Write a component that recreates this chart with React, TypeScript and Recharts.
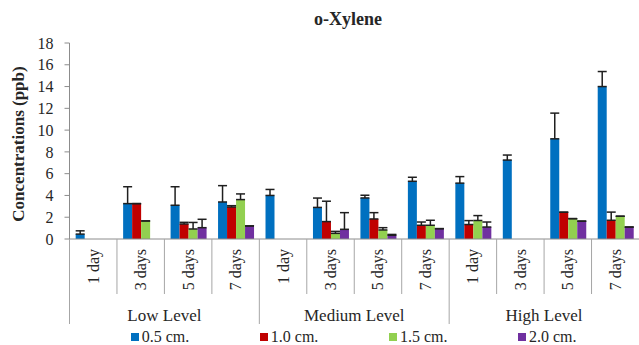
import React from "react";
import { BarChart, Bar, XAxis, YAxis, ErrorBar, Legend } from "recharts";

// Categories
const levels = ["Low Level", "Medium Level", "High Level"];
const days = ["1 day", "3 days", "5 days", "7 days"];

// Series (sampling depth) names and colours
const seriesNames = ["0.5 cm.", "1.0 cm.", "1.5 cm.", "2.0 cm."];
const seriesColors = ["#0070C0", "#C00000", "#92D050", "#7030A0"];

// Y axis ticks (ppb)
const yTicks = [0, 2, 4, 6, 8, 10, 12, 14, 16, 18];

// Mean concentrations, ordered Low(1,3,5,7 d), Medium(...), High(...)
const cm05 = [0.45, 3.25, 3.1, 3.4, 4.0, 2.9, 3.77, 5.3, 5.13, 7.25, 9.2, 14.0];
const cm10 = [null, 3.25, 1.38, 2.94, null, 1.6, 1.84, 1.26, 1.33, null, 2.46, 1.72];
const cm15 = [null, 1.66, 0.92, 3.62, null, 0.52, 0.83, 1.26, 1.7, null, 1.87, 2.09];
const cm20 = [null, null, 1.04, 1.2, null, 0.89, 0.34, 0.95, 1.1, null, 1.64, 1.1];

// Upper error (standard deviation)
const cm05Err = [0.3, 1.55, 1.7, 1.5, 0.55, 0.86, 0.25, 0.37, 0.6, 0.46, 2.36, 1.38];
const cm10Err = [null, 0, 0.15, 0.12, null, 1.87, 0.58, 0.3, 0.36, null, 0, 0.75];
const cm15Err = [null, 0, 0.6, 0.52, null, 0.18, 0.21, 0.46, 0.45, null, 0, 0];
const cm20Err = [null, null, 0.77, 0, null, 1.53, 0.08, 0, 0.46, null, 0, 0];

const values = [cm05, cm10, cm15, cm20];
const errors = [cm05Err, cm10Err, cm15Err, cm20Err];

const data = levels.flatMap((level, li) =>
  days.map((day, di) => {
    const i = li * days.length + di;
    const row: Record<string, any> = { key: `${level}|${day}`, level, day };
    values.forEach((arr, s) => {
      row[`s${s}`] = arr[i];
      const e = errors[s][i];
      row[`e${s}`] = e == null ? null : [0, e];
    });
    return row;
  })
);

const CHART_W = 639;
const CHART_H = 345;
const Y_AXIS_W = 69.5;
const BAND = (CHART_W - Y_AXIS_W) / data.length;
const FONT = "'Liberation Serif', 'Times New Roman', serif";
const TEXT = "#262626";
const AXIS = "#8c8c8c";
const SEP = "#a6a6a6";

const DayTick = (props: any) => {
  const { x, y, index } = props;
  const row = data[index];
  if (!row) return null;
  const left = x - BAND / 2;
  const groupStart = index % days.length === 0;
  const ty = y + 10;
  return (
    <g>
      <line x1={left} x2={left} y1={y} y2={y + (groupStart ? 85 : 55)} stroke={SEP} strokeWidth={1} />
      <text
        x={x}
        y={ty}
        transform={`rotate(-90, ${x}, ${ty})`}
        textAnchor="end"
        dominantBaseline="central"
        fontSize={16}
        fontFamily={FONT}
        fill={TEXT}
      >
        {row.day}
      </text>
      {index % days.length === 1 && (
        <text
          x={x + BAND / 2}
          y={y + 76}
          textAnchor="middle"
          dominantBaseline="central"
          fontSize={17}
          fontFamily={FONT}
          fill={TEXT}
        >
          {row.level}
        </text>
      )}
    </g>
  );
};

const LegendContent = () => (
  <div style={{ position: "relative", height: 22, fontFamily: FONT, fontSize: 16, color: TEXT }}>
    {seriesNames.map((name, i) => (
      <div
        key={name}
        style={{
          position: "absolute",
          left: 130.7 + i * 129.1,
          top: 6,
          height: 16,
          display: "flex",
          alignItems: "center",
          whiteSpace: "nowrap",
        }}
      >
        <span style={{ display: "inline-block", width: 8, height: 8, background: seriesColors[i], marginRight: 3 }} />
        <span>{name}</span>
      </div>
    ))}
  </div>
);

export default function App() {
  return (
    <div>
      <style>{`body{margin:0}`}</style>
      <BarChart
        width={CHART_W}
        height={CHART_H}
        data={data}
        margin={{ top: 43, right: 0, bottom: 0, left: 0 }}
        barCategoryGap="13%"
        barGap={0}
      >
        <text
          x={348}
          y={19}
          textAnchor="middle"
          dominantBaseline="central"
          fontSize={18}
          fontWeight="bold"
          fontFamily={FONT}
          fill={TEXT}
        >
          o-Xylene
        </text>
        <text
          x={18.5}
          y={144}
          transform="rotate(-90, 18.5, 144)"
          textAnchor="middle"
          dominantBaseline="central"
          fontSize={17}
          fontWeight="bold"
          fontFamily={FONT}
          fill={TEXT}
        >
          Concentrations (ppb)
        </text>
        <YAxis
          width={Y_AXIS_W}
          domain={[0, 18]}
          ticks={yTicks}
          interval={0}
          tickSize={5}
          tickMargin={11}
          axisLine={{ stroke: AXIS }}
          tickLine={{ stroke: AXIS }}
          tick={{ fontSize: 16, fill: TEXT, fontFamily: FONT }}
        />
        <XAxis
          dataKey="key"
          interval={0}
          height={84}
          tickLine={false}
          tickSize={0}
          tickMargin={0}
          axisLine={{ stroke: AXIS }}
          tick={<DayTick />}
        />
        {seriesNames.map((name, s) => (
          <Bar key={name} dataKey={`s${s}`} name={name} fill={seriesColors[s]} isAnimationActive={false}>
            <ErrorBar
              dataKey={`e${s}`}
              direction="y"
              width={4.5}
              strokeWidth={1.5}
              stroke="#1f1f1f"
              isAnimationActive={false}
            />
          </Bar>
        ))}
        <Legend verticalAlign="bottom" content={<LegendContent />} />
      </BarChart>
    </div>
  );
}
